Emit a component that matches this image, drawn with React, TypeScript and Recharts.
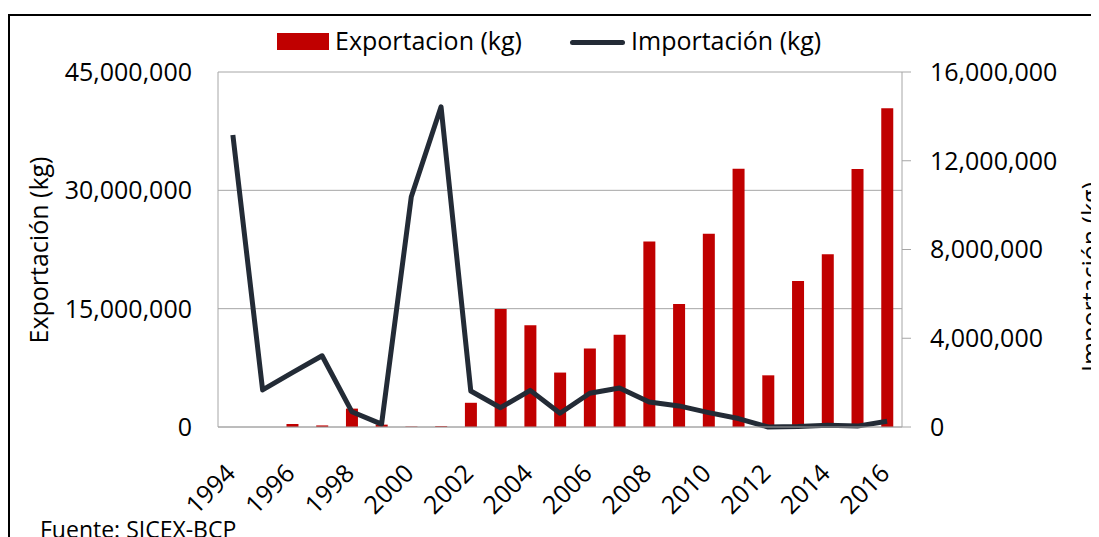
import React from "react";
import {
  ComposedChart,
  Bar,
  Line,
  XAxis,
  YAxis,
  CartesianGrid,
} from "recharts";

const years = [
  "1994", "1995", "1996", "1997", "1998", "1999", "2000", "2001", "2002", "2003", "2004", "2005",
  "2006", "2007", "2008", "2009", "2010", "2011", "2012", "2013", "2014", "2015", "2016",
];

// kg exportados (eje izquierdo)
const exportKg = [
  0, 0, 380000, 200000, 2330000, 300000, 50000, 100000, 3070000, 14960000, 12900000, 6900000,
  9940000, 11700000, 23500000, 15600000, 24500000, 32750000, 6550000, 18500000, 21900000, 32700000, 40400000,
];

// kg importados (eje derecho)
const importKg = [
  13160000, 1670000, 2450000, 3210000, 690000, 130000, 10380000, 14430000, 1620000, 870000, 1650000, 620000,
  1520000, 1760000, 1130000, 950000, 650000, 380000, 0, 20000, 80000, 40000, 260000,
];

const leftTicks = [0, 15000000, 30000000, 45000000];
const rightTicks = [0, 4000000, 8000000, 12000000, 16000000];

const data = years.map((year, i) => ({
  year,
  exportacion: exportKg[i],
  importacion: importKg[i],
}));

const FONT = "'Open Sans', Lato, sans-serif";
const AXIS_GRAY = "#a6a6a6";
const fmt = (v: number) => v.toLocaleString("en-US");

const YearTick = (props: any) => {
  const { x, y, payload } = props;
  const ax = x + 4;
  const ay = y + 48;
  return (
    <text
      x={ax}
      y={ay}
      textAnchor="end"
      transform={`rotate(-45, ${ax}, ${ay})`}
      fontSize={25}
      fontFamily={FONT}
      fill="#000"
    >
      {payload.value}
    </text>
  );
};

const axisTitle = (text: string, x: number, y: number) => () =>
  (
    <text
      x={x}
      y={y}
      transform={`rotate(-90, ${x}, ${y})`}
      textAnchor="middle"
      dominantBaseline="central"
      fontSize={25}
      fontFamily={FONT}
      fill="#000"
    >
      {text}
    </text>
  );

export default function App() {
  return (
    <div
      style={{
        position: "relative",
        width: 1091,
        height: 529,
        overflow: "hidden",
        fontFamily: FONT,
      }}
    >
      <div
        style={{
          position: "absolute",
          left: 0,
          top: 6,
          width: 1200,
          height: 700,
          border: "2px solid #000",
          boxSizing: "border-box",
        }}
      />
      <ComposedChart
        width={1091}
        height={529}
        data={data}
        margin={{ top: 64, right: 0, bottom: 0, left: 0 }}
        style={{ position: "absolute", left: 0, top: 0 }}
      >
        <CartesianGrid yAxisId="left" vertical={false} stroke={AXIS_GRAY} />
        <XAxis
          dataKey="year"
          interval={1}
          height={110}
          tickLine={false}
          tickSize={0}
          tickMargin={0}
          axisLine={{ stroke: AXIS_GRAY }}
          tick={<YearTick />}
        />
        <YAxis
          yAxisId="left"
          width={210}
          domain={[0, 45000000]}
          ticks={leftTicks}
          tickFormatter={fmt}
          tickLine={false}
          tickSize={0}
          tickMargin={26}
          axisLine={{ stroke: AXIS_GRAY }}
          tick={{ fontSize: 25, fill: "#000", fontFamily: FONT }}
          label={{ content: axisTitle("Exportación (kg)", 30, 242) }}
        />
        <YAxis
          yAxisId="right"
          orientation="right"
          width={197}
          domain={[0, 16000000]}
          ticks={rightTicks}
          tickFormatter={fmt}
          tickLine={{ stroke: AXIS_GRAY }}
          tickSize={9}
          tickMargin={19}
          axisLine={{ stroke: AXIS_GRAY }}
          tick={{ fontSize: 25, fill: "#000", fontFamily: FONT }}
          label={{ content: axisTitle("Importación (kg)", 1082, 269) }}
        />
        <Bar
          yAxisId="left"
          dataKey="exportacion"
          fill="#C00000"
          barSize={12}
          isAnimationActive={false}
        />
        <Line
          yAxisId="right"
          type="linear"
          dataKey="importacion"
          stroke="#232b36"
          strokeWidth={5}
          strokeLinejoin="round"
          dot={false}
          activeDot={false}
          isAnimationActive={false}
        />
      </ComposedChart>

      {/* leyenda */}
      <div style={{ position: "absolute", left: 269, top: 25, width: 52, height: 17, background: "#C00000" }} />
      <div style={{ position: "absolute", left: 327, top: 20, fontSize: 25, lineHeight: "25px", color: "#000" }}>
        Exportacion (kg)
      </div>
      <div
        style={{
          position: "absolute",
          left: 562,
          top: 32,
          width: 55,
          height: 5,
          borderRadius: 3,
          background: "#232b36",
        }}
      />
      <div style={{ position: "absolute", left: 623, top: 20, fontSize: 25, lineHeight: "25px", color: "#000" }}>
        Importación (kg)
      </div>

      <div style={{ position: "absolute", left: 32, top: 509, fontSize: 23, lineHeight: "24px", color: "#000" }}>
        Fuente: SICEX-BCP
      </div>
    </div>
  );
}
